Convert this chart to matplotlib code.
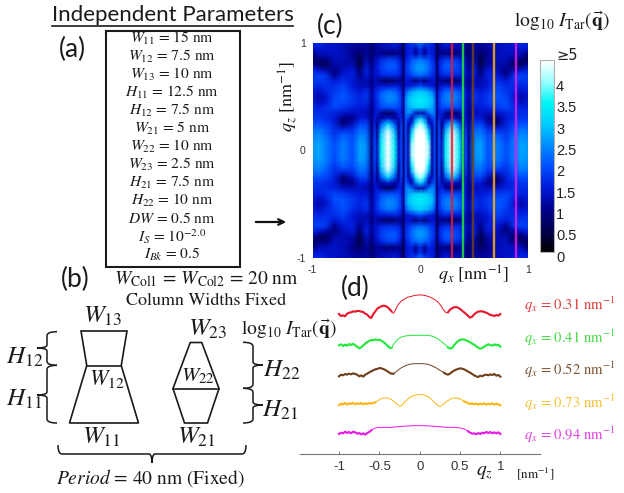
import numpy as np
import matplotlib
matplotlib.use("Agg")
import matplotlib.pyplot as plt
from matplotlib.colors import LinearSegmentedColormap
from matplotlib.cm import ScalarMappable
from matplotlib.colors import Normalize
from matplotlib.patches import PathPatch, Polygon, Rectangle
from matplotlib.path import Path
from matplotlib.transforms import ScaledTranslation

plt.rcParams["mathtext.fontset"] = "stix"
W, H = 624, 493

params = [
    r"$W_{11}$ = 15 nm", r"$W_{12}$ = 7.5 nm", r"$W_{13}$ = 10 nm", r"$H_{11}$ = 12.5 nm",
    r"$H_{12}$ = 7.5 nm", r"$W_{21}$ = 5 nm", r"$W_{22}$ = 10 nm", r"$W_{23}$ = 2.5 nm",
    r"$H_{21}$ = 7.5 nm", r"$H_{22}$ = 10 nm", r"$DW$ = 0.5 nm", r"$I_S$ = $10^{-2.0}$",
    r"$I_{Bk}$ = 0.5",
]
w11, w12, w13, h11, h12 = 15, 7.5, 10, 12.5, 7.5
w21, w22, w23, h21, h22 = 5, 10, 2.5, 7.5, 10

# one quadrant of the map, rows are qz, columns are qx
qx_nodes = [0, .04, .08, .11, .135, .155, .175, .2, .235, .3, .365, .4, .425, .45, .5, .56, .63, .72, .8, .88, .94, 1]
qz_nodes = [0, .05, .1, .15, .2, .25, .3, .35, .4, .45, .5, .55, .6, .65, .7, .75, .8, .85, .9, .95, 1]
map_quadrant = [
    [5.0, 5.0, 4.0, 1.2, 2.0, .8, 2.0, 1.3, 3.4, 5.0, 3.4, 1.3, 2.0, .9, 2.5, 2.7, 2.0, 2.4, 2.0, 2.4, 2.7, 2.6],
    [5.0, 5.0, 4.0, 1.2, 2.0, .8, 2.0, 1.3, 3.4, 5.0, 3.4, 1.3, 2.0, .9, 2.5, 2.7, 2.0, 2.4, 2.0, 2.4, 2.7, 2.6],
    [5.0, 4.9, 3.7, 1.2, 2.0, .8, 2.0, 1.2, 3.2, 4.8, 3.2, 1.2, 2.0, .9, 2.4, 2.6, 2.0, 2.3, 1.9, 2.4, 2.6, 2.5],
    [5.0, 4.6, 3.3, 1.1, 2.0, .8, 2.0, 1.1, 3.0, 4.5, 3.0, 1.1, 1.9, .9, 2.3, 2.4, 1.9, 2.1, 1.8, 2.2, 2.5, 2.4],
    [4.7, 4.2, 2.7, 1.0, 2.0, .8, 2.0, 1.0, 2.6, 4.0, 2.6, 1.0, 1.8, .9, 2.1, 2.2, 1.7, 1.6, 1.7, 2.1, 2.3, 2.2],
    [4.2, 3.6, 1.6, 1.2, 2.0, .8, 1.9, 1.0, 2.0, 3.2, 2.0, 1.0, 1.6, .9, 1.9, 1.9, 1.3, .8, 1.6, 1.9, 2.0, 2.0],
    [3.1, 2.4, 1.1, 1.8, 2.1, .8, 1.7, 1.3, 1.1, 1.5, 1.1, 1.2, 1.5, .9, 1.5, 1.5, 1.0, .9, 1.5, 1.7, 1.8, 1.8],
    [1.2, 1.3, 2.2, 2.5, 2.3, .8, 1.5, 1.6, 1.1, .6, 1.1, 1.5, 1.4, .9, 1.3, 1.4, 1.3, 1.4, 1.6, 1.7, 1.7, 1.7],
    [3.1, 3.0, 2.9, 2.7, 2.3, .9, 1.6, 1.9, 2.0, 2.0, 1.9, 1.6, 1.4, 1.0, 1.5, 1.5, 1.6, 1.8, 1.9, 1.7, 1.6, 1.6],
    [3.4, 3.3, 3.1, 2.9, 2.4, .9, 1.7, 2.1, 2.3, 2.4, 2.1, 1.7, 1.5, 1.0, 1.7, 1.6, 1.8, 2.0, 2.0, 1.5, 1.3, 1.5],
    [3.3, 3.2, 3.0, 2.8, 2.3, .9, 1.7, 2.1, 2.4, 2.5, 2.2, 1.8, 1.5, 1.1, 1.8, 1.6, 1.8, 2.1, 1.9, 1.4, 1.2, 1.4],
    [3.0, 2.9, 2.7, 2.4, 2.0, .8, 1.6, 1.9, 2.2, 2.3, 2.0, 1.7, 1.5, 1.1, 1.7, 1.5, 1.7, 2.0, 1.8, 1.6, 1.4, 1.5],
    [2.0, 1.8, 1.6, 1.5, 1.4, .7, 1.3, 1.5, 1.6, 1.5, 1.5, 1.4, 1.3, 1.0, 1.3, 1.3, 1.5, 1.9, 1.7, 1.7, 1.6, 1.7],
    [1.2, .8, 1.2, 1.4, 1.4, .6, 1.0, .9, .8, .6, .9, 1.1, 1.2, .9, 1.3, 1.2, 1.5, 1.7, 1.5, 1.8, 1.8, 1.8],
    [2.2, 2.1, 1.9, 1.7, 1.6, .6, 1.3, 1.6, 1.7, 1.7, 1.6, 1.4, 1.4, 1.1, 1.5, 1.0, 1.6, 1.5, 1.0, 1.8, 1.9, 1.8],
    [2.6, 2.5, 2.2, 1.9, 1.7, .6, 1.5, 1.8, 2.0, 2.0, 1.8, 1.5, 1.4, 1.0, 1.6, .8, 1.5, 1.3, .9, 1.2, 1.4, 1.6],
    [2.6, 2.5, 2.2, 1.9, 1.7, .6, 1.5, 1.8, 2.1, 2.1, 1.8, 1.5, 1.3, .9, 1.4, .5, 1.2, 1.2, 1.2, .6, .7, 1.1],
    [2.3, 2.1, 2.0, 1.7, 1.5, .5, 1.3, 1.6, 1.8, 1.8, 1.6, 1.3, 1.2, .8, 1.2, .5, 1.1, 1.3, 1.3, .9, .9, .6],
    [1.7, 1.0, 1.6, 1.5, 1.4, .5, .9, 1.0, .9, .8, 1.0, 1.1, 1.0, .7, 1.1, .7, 1.0, 1.3, 1.4, 1.3, 1.3, .8],
    [1.8, 1.2, 1.6, 1.5, 1.4, .5, 1.0, 1.2, 1.3, 1.2, 1.2, 1.1, 1.0, .8, 1.1, 1.0, 1.1, 1.3, 1.4, 1.4, 1.5, 1.4],
    [2.3, 2.0, 1.8, 1.6, 1.5, .5, 1.2, 1.4, 1.6, 1.4, 1.3, 1.2, 1.1, .8, 1.2, 1.1, 1.2, 1.3, 1.4, 1.5, 1.7, 1.6],
]

# cut positions on the map and the matching labels
cut_qx = [.293, .395, .49, .69, .89]
cut_labels = ["0.31", "0.41", "0.52", "0.73", "0.94"]
cut_colors = ["#e8182c", "#22e83a", "#70401c", "#fbb516", "#e81ae8"]
label_colors = ["#e03a3a", "#45d845", "#7a5230", "#f5c030", "#e040e0"]

# line cuts, height above the axis in units of a third of a pixel
red = [420, 414, 416, 413, 421, 424, 425, 428, 427, 429, 429, 427, 426, 421, 418, 411, 408, 420, 428, 436, 440,
       443, 445, 444, 441, 435, 428, 422, 432, 445, 453, 459, 463, 467, 470, 472, 473, 475, 476, 477, 477,
       477, 476, 475, 473, 471, 468, 465, 461, 456, 449, 440, 431, 424, 425, 433, 437, 440, 441, 439, 435,
       430, 425, 420, 414, 409, 412, 419, 424, 427, 428, 428, 426, 424, 421, 417, 416, 414, 417, 415, 420]
green = [326, 329, 324, 328, 325, 330, 327, 331, 326, 322, 317, 320, 326, 331, 336, 339, 342, 341, 344, 342, 343,
         340, 336, 331, 325, 319, 318, 328, 337, 343, 348, 351, 353, 354, 355, 355, 356, 356, 356, 356, 356,
         356, 356, 356, 356, 355, 354, 352, 349, 345, 341, 336, 331, 326, 320, 316, 318, 326, 333, 339, 342,
         344, 343, 341, 338, 335, 331, 328, 323, 319, 316, 318, 322, 326, 329, 327, 325, 329, 326, 328, 322]
brown = [233, 238, 236, 240, 238, 241, 239, 242, 240, 238, 233, 236, 232, 238, 241, 245, 248, 251, 254, 255, 258,
         257, 255, 252, 248, 244, 241, 241, 245, 250, 255, 259, 262, 265, 267, 269, 270, 271, 271, 271, 271,
         271, 271, 270, 269, 267, 265, 262, 259, 255, 251, 248, 244, 240, 238, 241, 246, 250, 253, 255, 257,
         256, 254, 251, 247, 244, 240, 236, 233, 231, 235, 233, 237, 238, 236, 239, 237, 240, 235, 237, 232]
orange = [146, 151, 149, 153, 148, 152, 150, 154, 149, 152, 150, 153, 149, 152, 150, 153, 151, 153, 155, 159, 163,
          166, 168, 168, 168, 166, 163, 159, 154, 149, 143, 145, 152, 158, 164, 169, 173, 175, 177, 178, 178,
          178, 177, 175, 172, 168, 163, 157, 151, 146, 142, 146, 151, 156, 160, 164, 167, 168, 168, 167, 165,
          162, 158, 155, 152, 150, 152, 149, 151, 148, 151, 149, 152, 148, 151, 149, 152, 148, 151, 149, 146]
magenta = [60, 64, 62, 67, 63, 66, 62, 67, 65, 61, 63, 59, 62, 58, 63, 66, 71, 75, 78, 79, 80,
           79, 80, 80, 80, 79, 80, 81, 81, 82, 82, 83, 83, 84, 84, 84, 85, 85, 85, 85, 85,
           85, 85, 85, 84, 84, 84, 83, 83, 82, 82, 81, 81, 80, 80, 80, 80, 80, 79, 79, 78,
           77, 75, 72, 68, 64, 61, 62, 59, 63, 60, 64, 62, 66, 63, 66, 62, 65, 62, 65, 60]
curves = [red, green, brown, orange, magenta]
# the traces look heavier past these |qz|
wing_start = [.33, .35, .3, .55, .6]

cmap_stops = [(0, "#000000"), (.111, "#00004d"), (.222, "#00008c"), (.333, "#0018d8"), (.444, "#004cff"),
              (.556, "#008cff"), (.667, "#00ccff"), (.778, "#00f5f5"), (.889, "#99ffff"), (1, "#ffffff")]
vmax = 4.5


def px_axes(x0, y0, x1, y1):
    return fig.add_axes([x0 / W, 1 - y1 / H, (x1 - x0) / W, (y1 - y0) / H])


def brace(x0, y0, x1, y1, tip, depth):
    # brace from (x0,y0) to (x1,y1), the tip goes "depth" away from the ends
    mx, my = tip
    if y0 == y1:
        s = y0 + depth
        e = s + depth
        verts = [(x0, y0), (x0, s), (x0 + 4, s), (mx - 3, s), (mx, s), (mx, e), (mx, s), (mx + 3, s),
                 (x1 - 4, s), (x1, s), (x1, y1)]
    else:
        s = x0 + depth
        e = s + depth
        verts = [(x0, y0), (s, y0), (s, y0 + 4), (s, my - 3), (s, my), (e, my), (s, my), (s, my + 3),
                 (s, y1 - 4), (s, y1), (x1, y1)]
    codes = [Path.MOVETO, Path.CURVE3, Path.CURVE3, Path.LINETO, Path.CURVE3, Path.CURVE3, Path.CURVE3, Path.CURVE3,
             Path.LINETO, Path.CURVE3, Path.CURVE3]
    ov.add_patch(PathPatch(Path(verts, codes), fill=False, ec="#1a1a1a", lw=1.1))


fig = plt.figure(figsize=(W / 100, H / 100), dpi=100)

# panel c
cmap = LinearSegmentedColormap.from_list("tar", cmap_stops)
quad = np.array(map_quadrant)
right = np.hstack([quad[:, ::-1][:, :-1], quad])
full = np.vstack([right[::-1][:-1], right])
qx_full = np.r_[-np.array(qx_nodes[::-1][:-1]), qx_nodes]
qz_full = np.r_[-np.array(qz_nodes[::-1][:-1]), qz_nodes]

ax = px_axes(312.7, 43, 527.7, 258)
ax.pcolormesh(qx_full, qz_full, full, shading="gouraud", cmap=cmap, vmin=0, vmax=vmax)
for q, c in zip(cut_qx, cut_colors):
    ax.axvline(q, color=c, lw=1.7, alpha=.85)
ax.set_xlim(-1, 1)
ax.set_ylim(-1, 1)
ax.set_xticks([-1, 0, 1], ["-1", "0", "1"])
ax.set_yticks([-1, 0, 1], ["-1", "0", "1"])
ax.tick_params(length=0, labelsize=7.5, labelcolor="#333333", labelfontfamily="Liberation Sans", pad=5)
for s in ax.spines.values():
    s.set_visible(False)

cax = px_axes(539.5, 60, 554, 252)
cb = fig.colorbar(ScalarMappable(Normalize(0, vmax), cmap), cax=cax)
cb.set_ticks([0, .5, 1, 1.5, 2, 2.5, 3, 3.5, 4], labels=["0", "0.5", "1", "1.5", "2", "2.5", "3", "3.5", "4"])
cax.tick_params(length=0, labelsize=10.5, labelcolor="#222222", pad=1.5, labelfontfamily="Liberation Sans")
cb.outline.set_edgecolor("#b0b0b0")
shift = ScaledTranslation(0, -4 / 100, fig.dpi_scale_trans)
for lab in cax.get_yticklabels():
    lab.set_transform(lab.get_transform() + shift)

# panel d
axd = px_axes(300, 270, 540, 454)
for curve, c, ws in zip(curves, cut_colors, wing_start):
    qz = np.linspace(-1, 1, len(curve))
    y = np.array(curve, dtype=float)
    axd.plot(qz, y, color=c, lw=.7)
    axd.plot(qz, np.where(np.abs(qz) >= ws, y, np.nan), color=c, lw=1.5)
axd.set_xlim((300 - 419.7) / 80.7, (540 - 419.7) / 80.7)
axd.set_ylim(0, 552)
axd.set_xticks([-1, -.5, 0, .5, 1], ["-1", "-0.5", "0", "0.5", "1"])
axd.set_yticks([])
axd.patch.set_alpha(0)
axd.tick_params(direction="in", length=2, width=.6, color="#666666", labelsize=9.5, labelcolor="#333333",
                labelfontfamily="Liberation Sans", pad=5)
for k in ["left", "right", "top"]:
    axd.spines[k].set_visible(False)
axd.spines["bottom"].set_color("#777777")

# everything else sits on an overlay in pixel units
ov = fig.add_axes([0, 0, 1, 1])
ov.set_xlim(0, W)
ov.set_ylim(H, 0)
ov.axis("off")
ov.patch.set_alpha(0)

ov.text(172.5, 15, "Independent Parameters", fontsize=16, family="Lato", ha="center", va="center", color="#1a1a1a")
ov.plot([52, 293], [25.5, 25.5], color="#1a1a1a", lw=1.2)
ov.add_patch(Rectangle((105.7, 31), 134.3, 235.7, fill=False, ec="#1a1a1a", lw=1.5))
for i, t in enumerate(params):
    ov.text(172, 38.7 + 18 * i, t, fontsize=11.2, family="STIXGeneral", ha="center", va="center", color="#1a1a1a")

for t, x, y in [("(a)", 72, 49), ("(b)", 75, 279), ("(c)", 330, 26), ("(d)", 355, 288)]:
    ov.text(x, y, t, fontsize=19, family="Lato", ha="center", va="center", color="#1a1a1a")

ov.annotate("", xy=(289, 222), xytext=(253, 222), arrowprops=dict(arrowstyle="->", lw=1.6, color="#111111"))

ov.text(206, 279, r"$W_{\mathrm{Col1}}$ = $W_{\mathrm{Col2}}$ = 20 nm", fontsize=14, family="STIXGeneral",
        ha="center", va="center", color="#1a1a1a")
ov.text(206, 301, "Column Widths Fixed", fontsize=13, family="STIXGeneral", ha="center", va="center",
        color="#1a1a1a")
ov.text(150, 478, r"$Period$ = 40 nm (Fixed)", fontsize=14, family="STIXGeneral", ha="center", va="center",
        color="#1a1a1a")

logq = r"$\log_{10}\,I_{\mathrm{Tar}}(\vec{\mathbf{q}})$"
ov.text(514, 21, logq, fontsize=14, ha="left", va="center", color="#1a1a1a")
ov.text(241, 329, logq, fontsize=14, ha="left", va="center", color="#1a1a1a")
ov.text(438, 275, r"$q_x$ [nm$^{-1}$]", fontsize=13, family="STIXGeneral", ha="left", va="center", color="#1a1a1a")
ov.text(288, 97, r"$q_z$ [nm$^{-1}$]", fontsize=13, family="STIXGeneral", rotation=90, ha="center", va="center",
        color="#1a1a1a")
ov.text(484, 473, r"$q_z$", fontsize=14, ha="center", va="center", color="#1a1a1a")
ov.text(535, 474, r"[nm$^{-1}$]", fontsize=9.5, family="STIXGeneral", ha="center", va="center", color="#1a1a1a")
ov.text(556, 56, "≥5", fontsize=10.5, family="DejaVu Sans", ha="left", va="center", color="#222222")

for i, (t, c) in enumerate(zip(cut_labels, label_colors)):
    ov.text(524, 305 + 32.5 * i, rf"$q_x$ = {t} nm$^{{-1}}$", fontsize=10.5, family="STIXGeneral", color=c,
            ha="left", va="center")

# profile sketches, drawn to scale from the fixed parameters
scale = 4.6
base = 423
c1, c2 = 104, 196
y1 = base - h11 * scale
y2 = y1 - h12 * scale
col1 = [(c1 - w11 * scale / 2, base), (c1 + w11 * scale / 2, base), (c1 + w12 * scale / 2, y1),
        (c1 + w13 * scale / 2, y2), (c1 - w13 * scale / 2, y2), (c1 - w12 * scale / 2, y1)]
ov.add_patch(Polygon(col1, closed=True, fill=False, ec="#1a1a1a", lw=1.2))
ov.plot([c1 - w12 * scale / 2, c1 + w12 * scale / 2], [y1, y1], color="#1a1a1a", lw=1.2)
y3 = base - h21 * scale
y4 = y3 - h22 * scale
col2 = [(c2 - w21 * scale / 2, base), (c2 + w21 * scale / 2, base), (c2 + w22 * scale / 2, y3),
        (c2 + w23 * scale / 2, y4), (c2 - w23 * scale / 2, y4), (c2 - w22 * scale / 2, y3)]
ov.add_patch(Polygon(col2, closed=True, fill=False, ec="#1a1a1a", lw=1.2))
ov.plot([c2 - w22 * scale / 2, c2 + w22 * scale / 2], [y3, y3], color="#1a1a1a", lw=1.2)

for t, x, y, fs in [(r"$W_{13}$", 103, 316, 18), (r"$W_{12}$", 107, 379, 16), (r"$W_{11}$", 101, 437, 18),
                    (r"$W_{23}$", 208, 329, 18), (r"$W_{22}$", 198, 376, 15), (r"$W_{21}$", 196, 437, 18),
                    (r"$H_{12}$", 25, 357, 18), (r"$H_{11}$", 24, 399, 18),
                    (r"$H_{22}$", 282, 370, 18), (r"$H_{21}$", 280, 410, 18)]:
    ov.text(x, y, t, fontsize=fs, ha="center", va="center", color="#1a1a1a")

brace(57, 331.7, 57, 365.3, (0, 348), -10)
brace(57, 365.3, 57, 423, (0, 395), -10)
brace(243, 342.3, 243, 388.3, (0, 365), 10)
brace(243, 388.3, 243, 423, (0, 405), 10)
brace(58, 445, 246, 445, (152, 0), 9)

fig.savefig("out.png", dpi=100)
